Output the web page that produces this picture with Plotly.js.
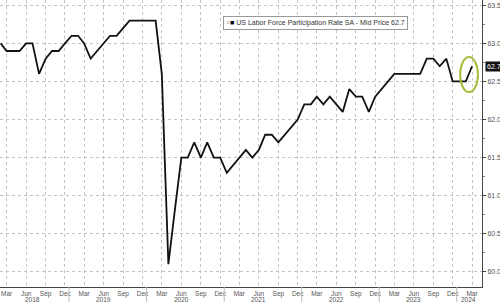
<!DOCTYPE html>
<html><head><meta charset="utf-8">
<script src="https://cdn.plot.ly/plotly-3.0.1.min.js"></script>
<style>html,body{margin:0;padding:0;background:#fff}#chart{width:500px;height:302px}</style>
</head><body><div id="chart"></div>
<script>
// Monthly series, Feb 2018 .. Mar 2024
const firstYear = 2018, firstMonth = 2;
const values = [
  63.0, 62.9, 62.9, 62.9, 63.0, 63.0, 62.6, 62.8, 62.9, 62.9, 63.0,
  63.1, 63.1, 63.0, 62.8, 62.9, 63.0, 63.1, 63.1, 63.2, 63.3, 63.3, 63.3,
  63.3, 63.3, 62.6, 60.1, 60.8, 61.5, 61.5, 61.7, 61.5, 61.7, 61.5, 61.5,
  61.3, 61.4, 61.5, 61.6, 61.5, 61.6, 61.8, 61.8, 61.7, 61.8, 61.9, 62.0,
  62.2, 62.2, 62.3, 62.2, 62.3, 62.2, 62.1, 62.4, 62.3, 62.3, 62.1, 62.3,
  62.4, 62.5, 62.6, 62.6, 62.6, 62.6, 62.6, 62.8, 62.8, 62.7, 62.8, 62.5,
  62.5, 62.5, 62.7
];
const dates = values.map((v, i) => {
  const m = firstMonth - 1 + i;
  const y = firstYear + Math.floor(m / 12);
  const mm = (m % 12) + 1;
  return y + '-' + String(mm).padStart(2, '0') + '-01';
});
const tickDates = ['2018-03-01','2018-06-01','2018-09-01','2018-12-01',
  '2019-03-01','2019-06-01','2019-09-01','2019-12-01',
  '2020-03-01','2020-06-01','2020-09-01','2020-12-01',
  '2021-03-01','2021-06-01','2021-09-01','2021-12-01',
  '2022-03-01','2022-06-01','2022-09-01','2022-12-01',
  '2023-03-01','2023-06-01','2023-09-01','2023-12-01',
  '2024-03-01'];
const tickLabels = ['Mar','Jun','Sep','Dec','Mar','Jun','Sep','Dec','Mar','Jun','Sep','Dec',
  'Mar','Jun','Sep','Dec','Mar','Jun','Sep','Dec','Mar','Jun','Sep','Dec','Mar'];
const yearLabels = ['2018','2019','2020','2021','2022','2023','2024'];
const yearLabelDates = ['2018-07-01','2019-06-01','2020-06-01','2021-06-01','2022-06-01','2023-06-01','2024-02-15'];
const yearSeparators = ['2018-12-20','2019-12-20','2020-12-20','2021-12-20','2022-12-20','2023-12-20'];
const seriesName = 'US Labor Force Participation Rate SA - Mid Price';
const lastValue = 62.7;

const trace = {
  x: dates, y: values, type: 'scatter', mode: 'lines',
  line: {color: '#111111', width: 1.8}, hoverinfo: 'skip', showlegend: false
};

const fam = 'Liberation Sans, Arial, sans-serif';
const txtFont = {family: fam, size: 7, color: '#555'};
const xFont = {family: fam, size: 6.5, color: '#555'};

const annotations = yearLabels.map((t, i) => ({
  x: yearLabelDates[i], xref: 'x', y: -0.045, yref: 'paper',
  text: t, showarrow: false, font: xFont, xanchor: 'center', yanchor: 'middle'
}));
annotations.push({
  x: 0.463, xref: 'paper', y: 1 - 16/287, yref: 'paper', xanchor: 'left', yanchor: 'top',
  text: '<span style="color:#aaa">≡</span><span style="color:#000">■</span> ' + seriesName + ' ' + lastValue.toFixed(1),
  showarrow: false, font: {family: fam, size: 7, color: '#333'},
  bgcolor: '#ffffff', bordercolor: '#999', borderwidth: 1, borderpad: 2
});
annotations.push({
  x: 1, xref: 'paper', xshift: 3, y: lastValue, yref: 'y', xanchor: 'left', yanchor: 'middle',
  text: lastValue.toFixed(1), showarrow: false,
  font: {family: fam, size: 7, color: '#fff'},
  bgcolor: '#111', borderpad: 1
});

const shapes = yearSeparators.map(d => ({
  type: 'line', xref: 'x', yref: 'paper', x0: d, x1: d, y0: 0, y1: -0.055,
  line: {color: '#bbb', width: 1}
}));
shapes.push({
  type: 'circle', xref: 'x', yref: 'y',
  x0: '2024-01-05', x1: '2024-03-29', y0: 62.36, y1: 62.82,
  line: {color: '#a3bf3a', width: 2}
});

const layout = {
  width: 500, height: 302,
  margin: {l: 0, r: 18, t: 0, b: 15},
  paper_bgcolor: '#fff', plot_bgcolor: '#fff',
  font: txtFont,
  xaxis: {
    type: 'date', range: ['2018-01-29', '2024-04-17'],
    tickmode: 'array', tickvals: tickDates, ticktext: tickLabels,
    showgrid: true, gridcolor: '#c4c4c4', griddash: 'dot', gridwidth: 1,
    showline: true, linecolor: '#444', linewidth: 1,
    ticks: '', tickfont: xFont, zeroline: false, fixedrange: true
  },
  yaxis: {
    side: 'right', range: [59.80, 63.57], dtick: 0.5, tick0: 60, tickformat: '.1f',
    showgrid: true, gridcolor: '#c4c4c4', griddash: 'dot', gridwidth: 1,
    showline: true, linecolor: '#444', linewidth: 1,
    ticks: 'outside', ticklen: 3, tickcolor: '#444',
    minor: {dtick: 0.25, ticks: 'outside', ticklen: 2, tickcolor: '#888', showgrid: false},
    tickfont: txtFont, zeroline: false, fixedrange: true
  },
  annotations: annotations,
  shapes: shapes,
  showlegend: false
};

Plotly.newPlot('chart', [trace], layout, {displayModeBar: false, staticPlot: true});
</script>
</body></html>
